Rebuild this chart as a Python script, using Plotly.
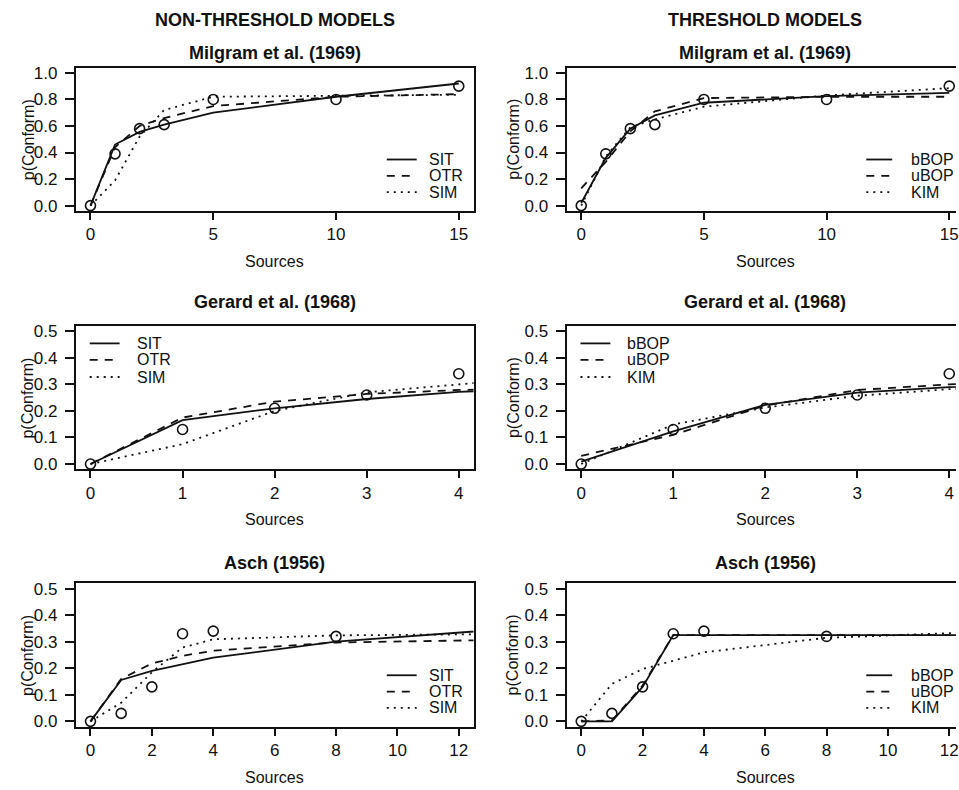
import plotly.graph_objects as go

W, H = 959, 790

# ---------------- data ----------------
milgram_x = [0, 1, 2, 3, 5, 10, 15]
milgram_obs = [0.0, 0.39, 0.58, 0.61, 0.80, 0.80, 0.90]
milgram_SIT = [0.0, 0.46, 0.555, 0.61, 0.70, 0.82, 0.92]
milgram_OTR = [0.0, 0.44, 0.60, 0.66, 0.75, 0.82, 0.84]
milgram_SIM = [0.0, 0.19, 0.52, 0.72, 0.82, 0.83, 0.835]
milgram_bBOP = [0.02, 0.36, 0.58, 0.68, 0.775, 0.825, 0.85]
milgram_uBOP = [0.13, 0.33, 0.56, 0.71, 0.81, 0.82, 0.82]
milgram_KIM = [0.0, 0.37, 0.59, 0.65, 0.745, 0.83, 0.885]

gerard_x = [0, 1, 2, 3, 4]
gerard_obs = [0.0, 0.13, 0.21, 0.26, 0.34]
gerard_model_x = [0, 1, 2, 3, 4, 5]
gerard_SIT = [0.0, 0.165, 0.21, 0.245, 0.272, 0.285]
gerard_OTR = [0.0, 0.175, 0.235, 0.264, 0.279, 0.285]
gerard_SIM = [0.0, 0.075, 0.20, 0.27, 0.30, 0.33]
gerard_bBOP = [0.009, 0.123, 0.223, 0.269, 0.29, 0.30]
gerard_uBOP = [0.031, 0.11, 0.22, 0.279, 0.30, 0.31]
gerard_KIM = [0.0, 0.149, 0.213, 0.257, 0.282, 0.30]

asch_x = [0, 1, 2, 3, 4, 8]
asch_obs = [0.0, 0.03, 0.13, 0.33, 0.34, 0.32]
asch_model_x = [0, 1, 2, 3, 4, 8, 15]
asch_SIT = [0.0, 0.156, 0.19, 0.215, 0.24, 0.30, 0.36]
asch_OTR = [0.0, 0.16, 0.218, 0.247, 0.266, 0.297, 0.31]
asch_SIM = [0.0, 0.07, 0.185, 0.278, 0.309, 0.324, 0.33]
asch_bBOP = [0.0, 0.0, 0.13, 0.325, 0.325, 0.325, 0.325]
asch_uBOP = [0.0, 0.003, 0.135, 0.325, 0.325, 0.325, 0.325]
asch_KIM = [0.0, 0.141, 0.197, 0.228, 0.26, 0.315, 0.345]

studies = ["Milgram et al. (1969)", "Gerard et al. (1968)", "Asch (1956)"]
col_headers = ["NON-THRESHOLD MODELS", "THRESHOLD MODELS"]
nonthr_names = ["SIT", "OTR", "SIM"]
thr_names = ["bBOP", "uBOP", "KIM"]

x_ticks = [[0, 5, 10, 15], [0, 1, 2, 3, 4], [0, 2, 4, 6, 8, 10, 12]]
y_ticks = [[0, 0.2, 0.4, 0.6, 0.8, 1.0], [0, 0.1, 0.2, 0.3, 0.4, 0.5],
           [0, 0.1, 0.2, 0.3, 0.4, 0.5]]
x_full = [[-0.6, 15.6], [-0.16, 4.16], [-0.48, 12.48]]
y_rng = [[-0.04, 1.04], [-0.02, 0.52], [-0.02, 0.52]]

# ---------------- layout geometry (pixels) ----------------
FONT = "Liberation Sans, Arial, sans-serif"
INK = "#111111"
col_left = [76.0, 568.3]
col_right_full = [475.0, 967.0]
row_top = [64.3, 325.7, 586.0]
row_h = 145.0

def px(x):
    return x / W

def py(y):
    return 1 - y / H

panels = [
    (0, 0, milgram_x, milgram_obs, milgram_x, [milgram_SIT, milgram_OTR, milgram_SIM], nonthr_names),
    (0, 1, milgram_x, milgram_obs, milgram_x, [milgram_bBOP, milgram_uBOP, milgram_KIM], thr_names),
    (1, 0, gerard_x, gerard_obs, gerard_model_x, [gerard_SIT, gerard_OTR, gerard_SIM], nonthr_names),
    (1, 1, gerard_x, gerard_obs, gerard_model_x, [gerard_bBOP, gerard_uBOP, gerard_KIM], thr_names),
    (2, 0, asch_x, asch_obs, asch_model_x, [asch_SIT, asch_OTR, asch_SIM], nonthr_names),
    (2, 1, asch_x, asch_obs, asch_model_x, [asch_bBOP, asch_uBOP, asch_KIM], thr_names),
]

dashes = ["solid", "8px,7px", "2px,5px"]

fig = go.Figure()
layout = dict(
    width=W, height=H, autosize=False,
    margin=dict(l=0, r=0, t=0, b=0),
    paper_bgcolor="white", plot_bgcolor="white",
    showlegend=False,
    font=dict(family=FONT, color=INK, size=16),
)
annotations = []
shapes = []

for i, (r, c, ox, oy, mx, models, names) in enumerate(panels):
    k = i + 1
    xa = "x" if k == 1 else f"x{k}"
    ya = "y" if k == 1 else f"y{k}"
    left = col_left[c]
    full_right = col_right_full[c]
    right = min(full_right, W)
    a, b = x_full[r]
    xr_end = a + (b - a) * (right - left) / (full_right - left)
    top = row_top[r]
    bottom = top + row_h

    layout["xaxis" if k == 1 else f"xaxis{k}"] = dict(
        domain=[px(left), px(right)], range=[a, xr_end], anchor=ya,
        tickmode="array", tickvals=x_ticks[r],
        showline=True, linewidth=1.8, linecolor=INK, mirror=True,
        ticks="outside", ticklen=7, tickwidth=1.5, tickcolor=INK,
        ticklabeloverflow="allow",
        showgrid=False, zeroline=False,
        tickfont=dict(size=17, family=FONT, color=INK),
    )
    layout["yaxis" if k == 1 else f"yaxis{k}"] = dict(
        domain=[py(bottom), py(top)], range=y_rng[r], anchor=xa,
        tickmode="array", tickvals=y_ticks[r], tickformat=".1f",
        showline=True, linewidth=1.8, linecolor=INK, mirror=(c == 0),
        ticks="outside", ticklen=9, tickwidth=1.5, tickcolor=INK,
        ticklabelstandoff=4,
        showgrid=False, zeroline=False,
        tickfont=dict(size=17, family=FONT, color=INK),
    )

    for m, d in zip(models, dashes):
        fig.add_trace(go.Scatter(
            x=mx, y=m, mode="lines", xaxis=xa, yaxis=ya,
            line=dict(color=INK, width=1.8, dash=d),
            hoverinfo="skip",
        ))
    fig.add_trace(go.Scatter(
        x=ox, y=oy, mode="markers", xaxis=xa, yaxis=ya,
        marker=dict(symbol="circle-open", size=10, color=INK,
                    line=dict(width=1.6, color=INK)),
        cliponaxis=False, hoverinfo="skip",
    ))

    annotations.append(dict(
        text=f"<b>{studies[r]}</b>", x=px((left + full_right) / 2),
        y=py([49.5, 301.3, 565.3][r]), xref="paper", yref="paper",
        xanchor="center", yanchor="middle", showarrow=False,
        font=dict(size=18, family=FONT, color=INK),
    ))
    annotations.append(dict(
        text="Sources", x=px((left + full_right) / 2), y=py(bottom + 51),
        xref="paper", yref="paper", xanchor="center", yanchor="middle",
        showarrow=False, font=dict(size=16, family=FONT, color=INK),
    ))
    annotations.append(dict(
        text="p(Conform)", x=px([28.0, 515.0][c]), y=py((top + bottom) / 2),
        xref="paper", yref="paper", xanchor="center", yanchor="middle",
        textangle=-90, showarrow=False,
        font=dict(size=16, family=FONT, color=INK),
    ))

    if r == 1:
        ly = [top + 17.6, top + 34.3, top + 51.6]
        lx0, lx1, tx = left + 14, left + 44, left + 59
    else:
        ly = [bottom - 52, bottom - 35.5, bottom - 19]
        if c == 0:
            lx0, lx1, tx = full_right - 87, full_right - 57, full_right - 47
        else:
            lx0, lx1, tx = full_right - 98, full_right - 72, full_right - 55
    for name, d, yy in zip(names, dashes, ly):
        shapes.append(dict(
            type="line", xref="paper", yref="paper",
            x0=px(lx0), x1=px(lx1), y0=py(yy), y1=py(yy),
            line=dict(color=INK, width=1.8, dash=d),
        ))
        annotations.append(dict(
            text=name, x=px(tx), y=py(yy), xref="paper", yref="paper",
            xanchor="left", yanchor="middle", showarrow=False,
            font=dict(size=16, family=FONT, color=INK),
        ))

for c, hdr in enumerate(col_headers):
    annotations.append(dict(
        text=f"<b>{hdr}</b>", x=px((col_left[c] + col_right_full[c]) / 2),
        y=py(16), xref="paper", yref="paper", xanchor="center",
        yanchor="middle", showarrow=False,
        font=dict(size=18, family=FONT, color=INK),
    ))

layout["annotations"] = annotations
layout["shapes"] = shapes
fig.update_layout(**layout)
fig.write_html("out.html")
